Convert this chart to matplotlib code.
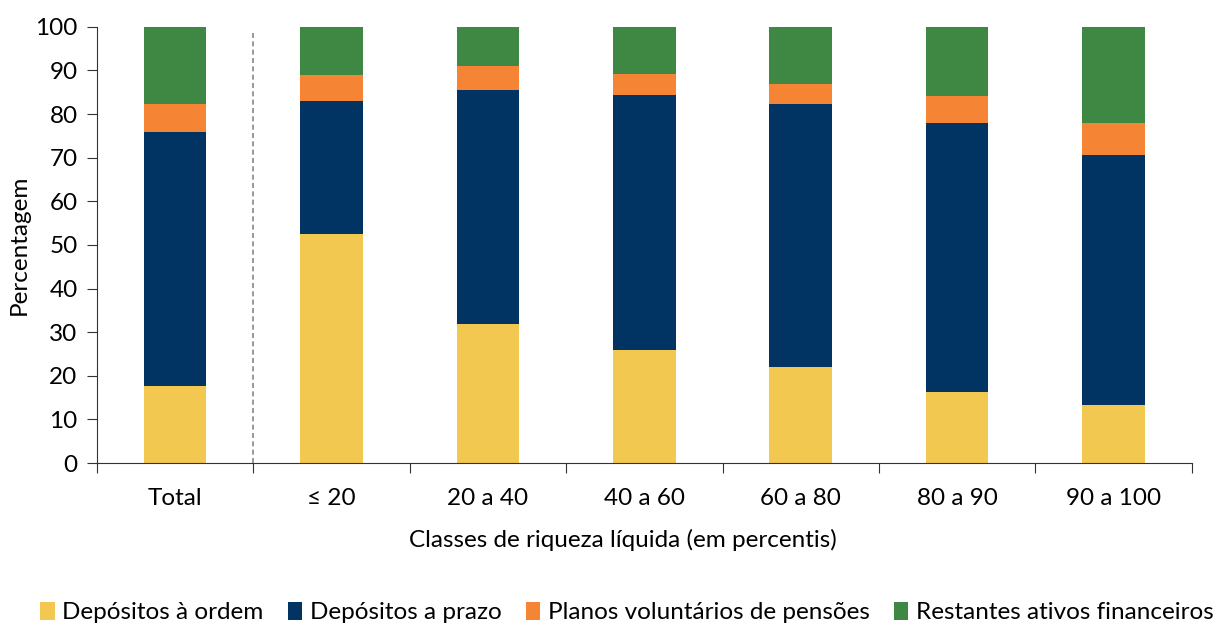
import matplotlib
matplotlib.use("Agg")
import matplotlib.pyplot as plt
import numpy as np

categorias = ["Total", "≤ 20", "20 a 40", "40 a 60", "60 a 80", "80 a 90", "90 a 100"]
depositos_ordem = [17.7, 52.4, 31.9, 25.8, 21.9, 16.3, 13.4]
depositos_prazo = [58.2, 30.7, 53.7, 58.6, 60.5, 61.7, 57.2]
planos_pensoes = [6.3, 5.8, 5.5, 4.8, 4.5, 6.1, 7.4]
restantes = [17.8, 11.1, 8.9, 10.8, 13.1, 15.9, 22.0]

series = [
    ("Depósitos à ordem", depositos_ordem, "#F2C851"),
    ("Depósitos a prazo", depositos_prazo, "#013462"),
    ("Planos voluntários de pensões", planos_pensoes, "#F58535"),
    ("Restantes ativos financeiros", restantes, "#3E8843"),
]

plt.rcParams['font.family'] = ['Lato', 'DejaVu Sans']
fs = 17.5

fig = plt.figure(figsize=(12.15, 6.24), dpi=100)
ax = fig.add_axes([0.0798, 0.258, 0.901, 0.699])

x = np.arange(len(categorias))
base = np.zeros(len(categorias))
for nome, vals, cor in series:
    ax.bar(x, vals, width=0.4, bottom=base, color=cor, label=nome)
    base += np.array(vals)

ax.set_xlim(-0.5, len(categorias) - 0.5)
ax.set_ylim(0, 100)
ax.set_yticks(range(0, 101, 10))
ax.tick_params(axis='y', labelsize=fs, length=7, pad=7, direction='out', color='#333333')

# separadores entre categorias como ticks maiores, rótulos nos menores
ax.set_xticks(np.arange(-0.5, len(categorias), 1.0))
ax.set_xticklabels([])
ax.set_xticks(x, minor=True)
ax.set_xticklabels(categorias, minor=True, fontsize=fs)
ax.tick_params(axis='x', which='major', length=7, color='#333333')
ax.tick_params(axis='x', which='minor', length=0, pad=18)

ax.axvline(0.5, ymin=0, ymax=0.99, color='#888888', linestyle=(0, (3, 2)), linewidth=1.2)

for s in ['top', 'right']:
    ax.spines[s].set_visible(False)
ax.spines['left'].set_color('#333333')
ax.spines['bottom'].set_color('#333333')

ax.set_ylabel("Percentagem", fontsize=fs, labelpad=4)
ax.set_xlabel("Classes de riqueza líquida (em percentis)", fontsize=fs, labelpad=14)
ax.xaxis.label.set_x(0.48)

fig.legend(loc='lower center', bbox_to_anchor=(0.516, -0.034), ncol=4, frameon=False,
           fontsize=fs, handlelength=0.6, handleheight=0.8, handletextpad=0.3,
           columnspacing=1.0)

fig.savefig("out.png", dpi=100)
